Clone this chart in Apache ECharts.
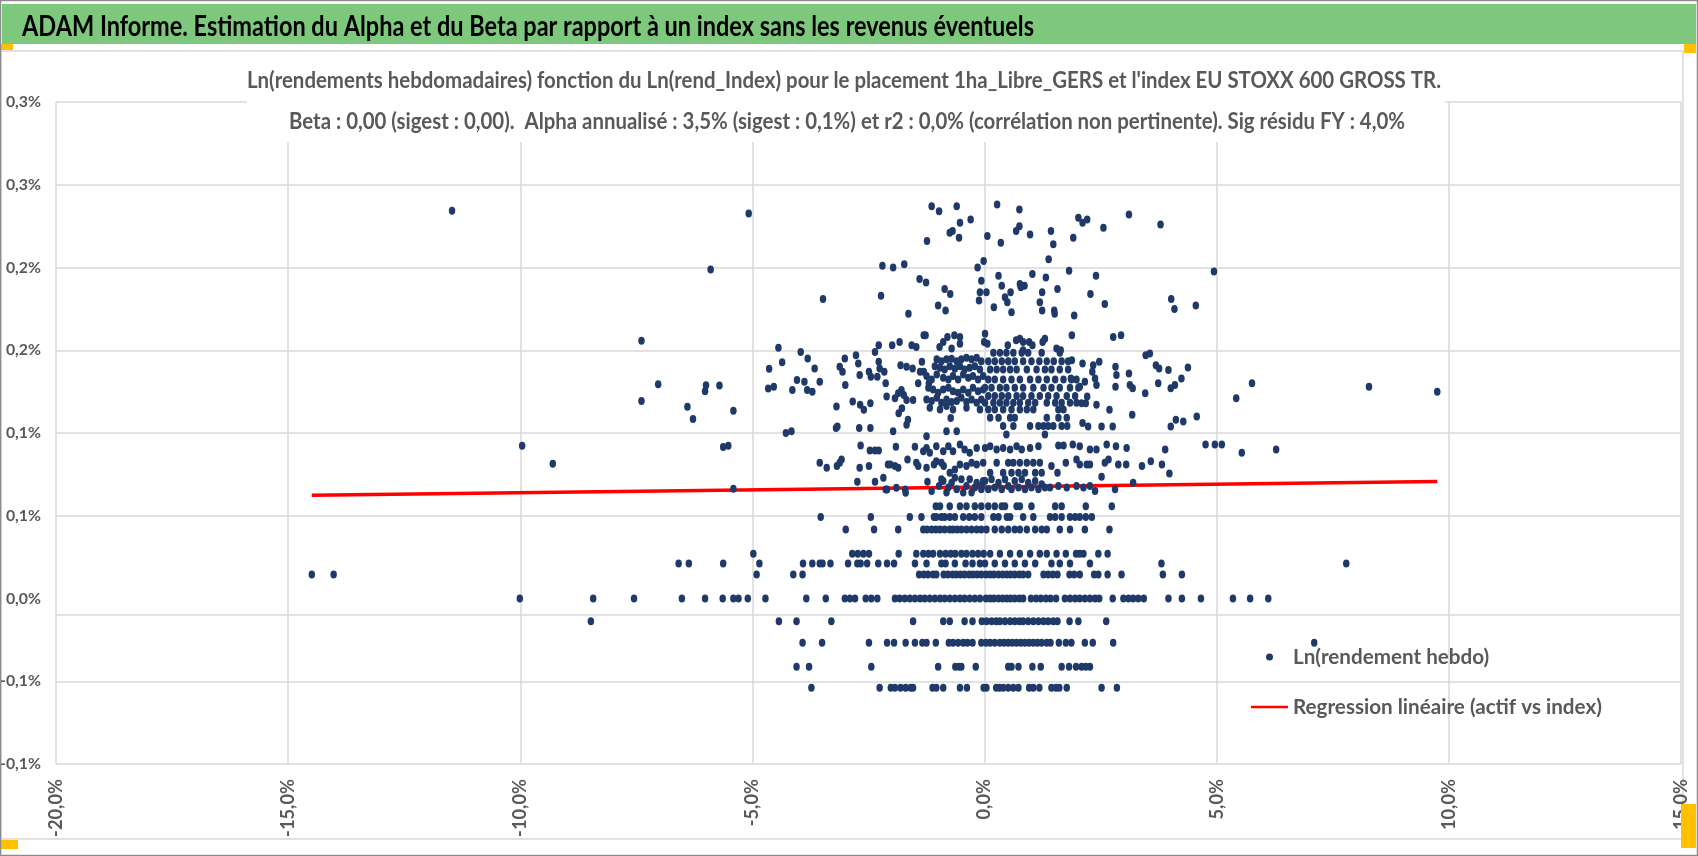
<!DOCTYPE html>
<html>
<head>
<meta charset="utf-8">
<script src="https://cdn.jsdelivr.net/npm/echarts@6/dist/echarts.min.js"></script>
<style>
html,body{margin:0;padding:0;background:#fff;}
#chart{width:1698px;height:856px;}
</style>
</head>
<body>
<div id="chart"></div>
<script>
const FONT = 'Lato, "DejaVu Sans Condensed", sans-serif';
const mainTitle = 'ADAM Informe. Estimation du Alpha et du Beta par rapport à un index sans les revenus éventuels';
const subLine1 = "Ln(rendements hebdomadaires) fonction du Ln(rend_Index) pour le placement 1ha_Libre_GERS et l'index EU STOXX 600 GROSS TR.";
const subLine2 = 'Beta : 0,00 (sigest : 0,00).  Alpha annualisé : 3,5% (sigest : 0,1%) et r2 : 0,0% (corrélation non pertinente). Sig résidu FY : 4,0%';
const seriesNames = ['Ln(rendement hebdo)', 'Regression linéaire (actif vs index)'];

// y-axis tick labels as printed (bottom to top), values in %
const yTickLabels = ['-0,1%', '-0,1%', '0,0%', '0,1%', '0,1%', '0,2%', '0,2%', '0,3%', '0,3%'];
const xTickLabels = ['-20,0%', '-15,0%', '-10,0%', '-5,0%', '0,0%', '5,0%', '10,0%', '15,0%'];

// horizontal axis line position (value in %)
const axisCrossY = -0.0115;

// regression line end points (x in %, y in %)
const regX = [-14.49, 9.75];
const regY = [0.0624, 0.0707];

// quantised return levels (y, %) and the index returns (x, %) observed on each
const bandLevels = [-0.0539, -0.0413, -0.0268, -0.0137, 0, 0.0145, 0.0212, 0.0270, 0.0417, 0.0492, 0.0558];
const bandX = [
  [-3.73, -2.26, -2.02, -1.93, -1.81, -1.70, -1.59, -1.54, -1.12, -1.04, -0.89, -0.53, -0.38, -0.02, 0.04, 0.25, 0.32, 0.40, 0.51, 0.62, 0.73, 0.96, 1.05, 1.18, 1.44, 1.54, 1.61, 1.77, 2.52, 2.85],
  [-4.05, -3.78, -2.44, -1.00, -0.63, -0.55, -0.50, -0.19, 0.51, 0.58, 0.73, 1.03, 1.21, 1.66, 1.82, 1.97, 2.09, 2.18, 2.27],
  [-3.92, -3.50, -2.49, -2.10, -1.95, -1.70, -1.50, -1.34, -1.25, -1.05, -0.77, -0.68, -0.57, -0.46, -0.37, -0.26, -0.07, 0.03, 0.12, 0.22, 0.33, 0.42, 0.51, 0.60, 0.69, 0.78, 0.87, 0.96, 1.05, 1.14, 1.23, 1.34, 1.42, 1.60, 1.75, 1.87, 2.16, 2.33, 2.77, 7.10],
  [-8.48, -4.43, -4.05, -3.30, -1.54, -0.89, -0.75, -0.43, -0.26, -0.06, 0.04, 0.15, 0.25, 0.33, 0.44, 0.55, 0.65, 0.75, 0.83, 0.94, 1.05, 1.16, 1.27, 1.37, 1.48, 1.57, 1.83, 2.02, 2.62],
  [-10.01, -8.43, -7.55, -6.52, -6.02, -5.64, -5.41, -5.30, -5.10, -4.72, -3.84, -3.42, -3.01, -2.90, -2.79, -2.56, -2.44, -2.31, -1.93, -1.83, -1.72, -1.61, -1.50, -1.39, -1.29, -1.18, -1.07, -0.96, -0.86, -0.75, -0.64, -0.53, -0.43, -0.32, -0.21, -0.10, 0.03, 0.12, 0.20, 0.30, 0.39, 0.48, 0.56, 0.65, 0.75, 0.83, 1.00, 1.11, 1.21, 1.32, 1.42, 1.54, 1.73, 1.84, 1.95, 2.05, 2.16, 2.27, 2.38, 2.47, 2.76, 2.99, 3.10, 3.20, 3.31, 3.43, 3.96, 4.25, 4.66, 5.35, 5.72, 6.11],
  [-14.49, -14.02, -4.91, -4.12, -3.92, -1.41, -1.31, -1.22, -1.11, -1.04, -0.88, -0.79, -0.69, -0.61, -0.52, -0.43, -0.33, -0.25, -0.16, -0.07, 0.03, 0.12, 0.20, 0.30, 0.39, 0.48, 0.56, 0.65, 0.75, 0.83, 0.94, 1.27, 1.37, 1.47, 1.57, 1.83, 1.93, 2.05, 2.36, 2.45, 2.65, 2.95, 3.84, 4.25],
  [-6.59, -6.37, -5.63, -4.85, -3.91, -3.71, -3.55, -3.49, -3.32, -2.94, -2.74, -2.67, -2.53, -2.29, -2.10, -1.95, -1.50, -1.25, -0.93, -0.84, -0.64, -0.41, -0.26, -0.10, 0.01, 0.22, 0.44, 0.65, 0.87, 1.09, 1.44, 1.62, 1.84, 2.27, 3.81, 7.79],
  [-4.98, -2.85, -2.73, -2.61, -2.49, -1.85, -1.47, -1.32, -1.21, -1.11, -0.96, -0.84, -0.73, -0.63, -0.50, -0.39, -0.26, -0.14, -0.02, 0.12, 0.33, 0.55, 0.76, 0.98, 1.19, 1.34, 1.55, 1.75, 1.97, 2.05, 2.13, 2.45, 2.65],
  [-2.99, -2.38, -1.86, -1.32, -1.24, -1.14, -1.05, -0.96, -0.86, -0.75, -0.68, -0.59, -0.50, -0.39, -0.28, -0.17, -0.07, 0.04, 0.22, 0.37, 0.51, 0.65, 0.76, 0.91, 1.09, 1.23, 1.34, 1.62, 1.84, 2.16, 2.69],
  [-3.53, -2.45, -1.61, -1.36, -1.09, -1.04, -0.93, -0.86, -0.75, -0.64, -0.46, -0.33, -0.21, -0.07, 0.19, 0.30, 0.48, 0.55, 0.83, 1.05, 1.41, 1.52, 1.66, 1.84, 1.95, 2.05, 2.18, 2.31],
  [-1.05, -0.96, -0.75, -0.53, -0.39, -0.21, -0.07, 0.08, 0.22, 0.37, 0.44, 0.69, 0.76, 1.01, 1.52, 1.66, 2.18, 2.74]
];

// scattered weekly points [index %, asset %] in the upper cloud
const cloudLow = [
  [-5.41,0.0663],[-2.74,0.0705],[-2.36,0.0705],[-2.18,0.0729],[-2.13,0.0659],[-2.10,0.0659],[-1.90,0.0669],[-1.71,0.0659],[-1.70,0.0639],[-1.23,0.0705],[-1.14,0.0649],
  [-0.98,0.068],[-0.93,0.072],[-0.89,0.071],[-0.82,0.064],[-0.78,0.067],[-0.71,0.070],[-0.64,0.073],[-0.60,0.066],[-0.50,0.072],[-0.46,0.064],[-0.39,0.068],[-0.32,0.072],[-0.28,0.064],[-0.21,0.067],[-0.17,0.070],[-0.07,0.066],[-0.03,0.071],
  [-0.06,0.068],[0.01,0.071],[0.08,0.066],[0.15,0.072],[0.22,0.067],[0.30,0.070],[0.37,0.066],[0.44,0.072],[0.51,0.068],[0.58,0.066],[0.65,0.071],[0.73,0.067],[0.80,0.072],[0.87,0.066],[0.94,0.070],[1.01,0.067],[1.09,0.071],[1.16,0.066],[1.23,0.069],[1.30,0.067],[1.41,0.067],[1.59,0.068],[1.77,0.067],[1.98,0.068],[2.13,0.067],[2.27,0.068],[2.38,0.065],[2.81,0.066],[2.52,0.0735],[3.20,0.070],
  [-0.75,0.076],[0.12,0.076],[0.40,0.076],[0.58,0.076],[0.73,0.076],[0.87,0.076],[1.09,0.076],[1.23,0.076],[1.57,0.076],[3.98,0.0755]
];
const cloudMid = [
  [-9.30,0.0814],[-3.55,0.082],[-3.40,0.079],[-3.18,0.080],[-3.12,0.082],[-3.08,0.084],[-2.69,0.079],[-2.49,0.080],[-2.08,0.081],[-2.03,0.081],[-1.93,0.080],[-1.86,0.079],[-1.66,0.084],[-1.47,0.082],[-1.43,0.080],[-1.25,0.079],[-1.09,0.081],[-1.04,0.083],[-0.93,0.082],[-0.88,0.080],[-0.64,0.078],[-0.53,0.081],[-0.39,0.080],[-0.28,0.082],[-0.17,0.081],
  [-0.03,0.082],[0.26,0.082],[0.51,0.082],[0.62,0.082],[0.76,0.082],[0.91,0.082],[1.05,0.082],[1.19,0.082],[1.44,0.080],[1.75,0.082],[1.98,0.084],[2.05,0.081],[2.20,0.081],[2.27,0.081],[2.59,0.082],[2.67,0.084],[2.88,0.081],[3.05,0.081],[3.39,0.080],[3.58,0.083],[3.82,0.081],
  [-9.96,0.0923],[-5.63,0.0915],[-5.52,0.0923],[-2.67,0.0925],[-2.47,0.0895],[-2.36,0.0895],[-2.28,0.0895],[-1.91,0.0917],[-1.50,0.0917],[-1.32,0.089],[-1.25,0.091],[-1.18,0.088],[-1.04,0.092],[-0.89,0.089],[-0.78,0.092],[-0.68,0.089],[-0.53,0.093],[-0.43,0.090],[-0.32,0.088],[-0.17,0.091],
  [0.01,0.091],[0.12,0.092],[0.26,0.090],[0.40,0.091],[0.55,0.090],[0.69,0.092],[0.80,0.090],[0.98,0.091],[1.16,0.092],[1.59,0.0925],[1.70,0.0925],[1.90,0.093],[2.05,0.092],[2.27,0.090],[2.41,0.090],[2.63,0.093],[2.83,0.092],[3.06,0.091],[3.89,0.090],[4.76,0.093],[4.96,0.093],[5.11,0.093],[5.54,0.088],[6.28,0.090]
];
const cloudLeft = [
  [-11.47,0.2343],[-5.08,0.2327],[-5.90,0.1988],[-7.39,0.1557],[-4.44,0.1515],[-4.64,0.1388],[-4.36,0.1428],[-7.03,0.1295],[-6.00,0.1289],[-6.02,0.1253],[-5.71,0.1287],[-4.66,0.1269],[-4.54,0.1279],[-7.39,0.1193],[-6.40,0.1159],[-6.28,0.1084],[-5.41,0.1134],
  [-1.14,0.237],[-0.98,0.234],[-0.60,0.237],[-0.53,0.227],[-0.30,0.229],[-0.75,0.221],[-0.69,0.222],[-0.55,0.218],[-1.24,0.216],[-2.20,0.201],[-1.97,0.200],[-1.73,0.202],[-0.15,0.200],[-0.02,0.204],
  [-1.40,0.193],[-1.26,0.191],[-0.86,0.187],[-0.74,0.184],[-2.23,0.183],[-3.48,0.181],[-0.07,0.192],[-0.10,0.185],[-0.12,0.180],[-1.00,0.177],[-0.84,0.174],[-1.64,0.172],
  [-1.31,0.159],[-1.27,0.159],[-0.80,0.158],[-0.65,0.159],[-0.53,0.158],[-2.28,0.153],[-1.99,0.153],[-1.83,0.155],[-1.57,0.153],[-1.47,0.152],[-0.97,0.152],[-0.89,0.155],[-0.71,0.151],[-0.53,0.154],
  [-3.96,0.149],[-3.81,0.145],[-3.66,0.139],[-4.04,0.132],[-3.88,0.131],[-3.55,0.131],[-4.14,0.126],[-3.82,0.126],[-3.71,0.125],
  [-2.77,0.147],[-2.72,0.142],[-3.01,0.145],[-3.12,0.140],[-3.06,0.137],[-2.69,0.135],[-3.00,0.129],[-2.49,0.137],[-2.45,0.134],[-2.31,0.134],[-2.36,0.149],[-2.28,0.143],[-2.26,0.139],[-2.16,0.137],[-2.13,0.130],
  [-1.81,0.141],[-1.68,0.140],[-1.55,0.139],[-1.35,0.143],[-1.39,0.137],[-1.31,0.137],[-1.43,0.130],[-1.20,0.130],
  [-3.19,0.116],[-2.84,0.119],[-2.68,0.117],[-2.60,0.114],[-2.46,0.118],[-2.11,0.122],[-1.93,0.121],[-1.86,0.124],[-1.79,0.126],[-1.74,0.123],[-1.68,0.120],[-1.85,0.112],[-1.78,0.115],[-1.54,0.120],[-1.65,0.108],[-1.68,0.105],
  [-3.20,0.103],[-3.17,0.104],[-2.70,0.103],[-2.46,0.103],[-1.97,0.101],[-4.28,0.100],[-4.16,0.101],[-0.73,0.109],[-0.82,0.101],[-0.60,0.101],[-1.25,0.098],
  [-1.03,0.1445],[-0.93,0.1434],[-0.82,0.1445],[-0.71,0.1449],[-0.60,0.1434],[-0.50,0.1445],[-0.39,0.1455],[-0.28,0.1445],[-0.17,0.1455],[-0.07,0.1434],
  [-1.07,0.1404],[-0.96,0.1394],[-0.86,0.1384],[-0.75,0.1404],[-0.64,0.1388],[-0.53,0.1404],[-0.43,0.1384],[-0.32,0.1394],[-0.21,0.1404],[-0.10,0.1384],
  [-1.25,0.1344],[-1.14,0.1324],[-1.03,0.1354],[-0.89,0.1334],[-0.78,0.1324],[-0.68,0.1344],[-0.57,0.1324],[-0.46,0.1354],[-0.35,0.1334],[-0.25,0.1344],[-0.14,0.1324],[-0.03,0.1344],
  [-1.21,0.1273],[-1.11,0.1263],[-1.00,0.1243],[-0.89,0.1263],[-0.78,0.1273],[-0.68,0.1253],[-0.57,0.1243],[-0.46,0.1263],[-0.35,0.1243],[-0.25,0.1273],[-0.14,0.1253],[-0.03,0.1263],
  [-1.25,0.1203],[-1.14,0.1193],[-1.03,0.1213],[-0.93,0.1183],[-0.82,0.1203],[-0.71,0.1187],[-0.60,0.1193],[-0.50,0.1213],[-0.39,0.1187],[-0.28,0.1203],[-0.17,0.1183],[-0.07,0.1203],
  [-1.18,0.1152],[-0.96,0.1142],[-0.82,0.1163],[-0.68,0.1142],[-0.39,0.1152],[-0.10,0.1142]
];
const cloudRight = [
  [0.27,0.238],[0.75,0.235],[0.06,0.219],[0.35,0.215],[0.68,0.222],[0.75,0.225],[0.98,0.220],[1.43,0.222],[1.48,0.214],[1.91,0.218],[2.02,0.230],[2.11,0.227],[2.21,0.229],[2.56,0.224],[3.11,0.232],[3.79,0.226],
  [1.38,0.205],[1.82,0.198],[1.03,0.196],[1.32,0.194],[2.40,0.195],[0.30,0.195],[0.37,0.189],[0.04,0.185],[0.76,0.190],[0.86,0.189],[0.78,0.188],[0.56,0.185],[0.44,0.182],[0.49,0.179],[0.58,0.173],[0.20,0.176],
  [1.24,0.185],[1.57,0.187],[1.19,0.179],[1.24,0.174],[1.50,0.174],[1.51,0.172],[1.93,0.171],[2.28,0.184],[2.59,0.178],[4.02,0.181],[4.09,0.175],
  [1.88,0.159],[2.77,0.158],[2.94,0.159],[0.01,0.160],[-0.01,0.155],[0.06,0.154],[0.50,0.153],[0.68,0.156],[0.76,0.157],[0.83,0.155],[0.83,0.150],[0.96,0.155],[1.03,0.153],[1.25,0.155],[1.30,0.157],[1.55,0.151],[1.64,0.150],
  [3.47,0.147],[3.56,0.148],[3.69,0.141],[3.76,0.139],[3.96,0.138],[4.24,0.133],[4.01,0.127],[4.10,0.129],[3.74,0.130],[3.46,0.124],[3.11,0.136],[3.13,0.129],[3.19,0.127],[2.82,0.140],[2.84,0.135],[2.82,0.128],
  [2.47,0.143],[2.34,0.141],[2.32,0.137],[2.38,0.133],[2.41,0.129],[2.11,0.142],[1.88,0.144],[1.86,0.133],[2.16,0.131],[2.05,0.128],[2.21,0.122],[2.09,0.118],[2.18,0.118],[2.41,0.117],[2.69,0.114],[3.18,0.111],
  [2.11,0.106],[2.23,0.104],[2.52,0.104],[2.76,0.104],[4.01,0.104],[4.12,0.108],[4.28,0.107],
  [0.19,0.1485],[0.33,0.1485],[0.47,0.1485],[0.62,0.1485],[0.80,0.1485],[0.94,0.1485],[1.23,0.1485],[1.62,0.1485],
  [0.08,0.1434],[0.22,0.1434],[0.37,0.1434],[0.51,0.1434],[0.65,0.1434],[0.83,0.1434],[1.01,0.1434],[1.18,0.1434],[1.34,0.1434],[1.49,0.1434],[1.66,0.1434],[1.80,0.1434],
  [0.12,0.1384],[0.26,0.1384],[0.40,0.1384],[0.55,0.1384],[0.69,0.1384],[0.91,0.1384],[1.12,0.1384],[1.30,0.1384],[1.44,0.1384],[1.62,0.1384],[1.80,0.1384],
  [0.08,0.1324],[0.22,0.1324],[0.40,0.1324],[0.58,0.1324],[0.76,0.1324],[0.98,0.1324],[1.16,0.1324],[1.34,0.1324],[1.52,0.1324],[1.70,0.1324],[1.87,0.1324],[1.98,0.1324],
  [0.01,0.1273],[0.15,0.1273],[0.33,0.1273],[0.47,0.1273],[0.65,0.1273],[0.83,0.1273],[1.05,0.1273],[1.27,0.1273],[1.44,0.1273],[1.62,0.1273],[1.84,0.1273],[2.02,0.1273],
  [0.08,0.1223],[0.22,0.1223],[0.37,0.1223],[0.51,0.1223],[0.69,0.1223],[0.83,0.1223],[1.01,0.1223],[1.19,0.1223],[1.37,0.1223],[1.55,0.1223],[1.77,0.1223],[1.95,0.1223],
  [0.01,0.1183],[0.19,0.1183],[0.33,0.1183],[0.47,0.1183],[0.62,0.1183],[0.76,0.1183],[0.94,0.1183],[1.09,0.1183],[1.34,0.1183],[1.52,0.1183],[1.66,0.1183],[1.84,0.1183],[1.98,0.1183],
  [0.08,0.1142],[0.22,0.1142],[0.40,0.1142],[0.58,0.1142],[0.76,0.1142],[0.91,0.1142],[1.05,0.1142],[1.59,0.1142],[1.70,0.1142],
  [0.12,0.1092],[0.30,0.1092],[0.55,0.1092],[0.65,0.1092],[1.34,0.1092],[1.59,0.1092],[1.77,0.1092],
  [0.40,0.1042],[0.62,0.1042],[0.98,0.1042],[1.16,0.1042],[1.27,0.1042],[1.37,0.1042],[1.48,0.1042],[1.66,0.1042],[1.78,0.1042],[0.47,0.0991],[1.30,0.0991],
  [4.94,0.1976],[4.55,0.1770],[4.38,0.1396],[4.57,0.110],[5.42,0.121],[5.76,0.130],[8.28,0.128],[9.75,0.125]
];

const scatterData = [];
bandLevels.forEach((lv, i) => bandX[i].forEach(x => scatterData.push([x, lv])));
[cloudLow, cloudMid, cloudLeft, cloudRight].forEach(arr => arr.forEach(p => scatterData.push(p)));

const regData = [[regX[0], regY[0]], [regX[1], regY[1]]];

// --- text measuring helpers (layout only) ---
const mctx = document.createElement('canvas').getContext('2d');
function textW(str, size, weight) {
  mctx.font = (weight || 'normal') + ' ' + size + 'px ' + FONT;
  return mctx.measureText(str).width;
}
function fitSize(str, targetW, weight) { return 20 * targetW / textW(str, 20, weight); }

const titleSize = 29, subSize = 23;
const titleScale = 1012 / textW(mainTitle, titleSize, 'bold');
const sub1Scale = 1194 / textW(subLine1, subSize, 'bold');
const sub2Scale = 1116 / textW(subLine2, subSize, 'bold');
const yLabSize = Math.min(20, fitSize('-0,1%', 41, 'bold'));
const xLabSize = Math.min(20, fitSize('-20,0%', 58, 'bold'));
const legSize = Math.min(22, fitSize(seriesNames[1], 309, 'bold'));

const GRID = '#d9d9d9';
const TXT = '#595959';
const ySplitColors = [GRID, GRID, 'rgba(0,0,0,0)', GRID, GRID, GRID, GRID, GRID, GRID];
const LINE_ICON = 'path://M0,0h0.01v0.01h-0.01z M0,6.99h0.01v0.01h-0.01z M0,2.2h37v2.6h-37z';

const chart = echarts.init(document.getElementById('chart'), null, {renderer: 'canvas'});
chart.setOption({
  animation: false,
  backgroundColor: '#ffffff',
  textStyle: {fontFamily: FONT},
  graphic: [
    {type: 'rect', z: -10, shape: {x: 1, y: 51, width: 1682, height: 788}, style: {fill: 'none', stroke: '#d9d9d9', lineWidth: 1.5}},
    {type: 'rect', z: 0, shape: {x: 2, y: 4, width: 1694, height: 40}, style: {fill: '#7ec87e'}},
    {type: 'text', z: 1, x: 22, y: 27, scaleX: titleScale,
     style: {text: mainTitle, fill: '#000000', fontSize: titleSize, fontWeight: 'bold', fontFamily: FONT, align: 'left', verticalAlign: 'middle'}},
    {type: 'rect', z: 5, shape: {x: 247, y: 60, width: 1198, height: 82}, style: {fill: '#ffffff'}},
    {type: 'text', z: 6, x: 844, y: 81, scaleX: sub1Scale,
     style: {text: subLine1, fill: TXT, fontSize: subSize, fontWeight: 'bold', fontFamily: FONT, align: 'center', verticalAlign: 'middle'}},
    {type: 'text', z: 6, x: 847, y: 122, scaleX: sub2Scale,
     style: {text: subLine2, fill: TXT, fontSize: subSize, fontWeight: 'bold', fontFamily: FONT, align: 'center', verticalAlign: 'middle'}},
    {type: 'rect', z: 10, shape: {x: 0, y: 44, width: 13, height: 6}, style: {fill: '#ffc000'}},
    {type: 'rect', z: 10, shape: {x: 1684, y: 44, width: 12, height: 9}, style: {fill: '#ffc000'}},
    {type: 'rect', z: 10, shape: {x: 0, y: 840, width: 18, height: 9}, style: {fill: '#ffc000'}},
    {type: 'rect', z: 10, shape: {x: 1681, y: 804, width: 15, height: 44}, style: {fill: '#ffc000'}},
    {type: 'rect', z: 20, shape: {x: 0.5, y: 0.5, width: 1697, height: 855}, style: {fill: 'none', stroke: '#8c8c8c', lineWidth: 1.5}}
  ],
  legend: {
    orient: 'vertical', left: 1251, top: 645, padding: 0, itemWidth: 37, itemHeight: 7, itemGap: 26,
    data: [{name: seriesNames[0], icon: 'circle'}, {name: seriesNames[1], icon: LINE_ICON}],
    textStyle: {fontFamily: FONT, fontSize: legSize, fontWeight: 'bold', color: TXT, lineHeight: 24},
    selectedMode: false
  },
  grid: {left: 56, right: 17, top: 102, bottom: 92, containLabel: false, outerBoundsMode: 'none'},
  xAxis: {
    type: 'value', min: -20, max: 15, interval: 5,
    axisLine: {show: false}, axisTick: {show: false},
    splitLine: {show: true, lineStyle: {color: GRID, width: 1.5}},
    axisLabel: {rotate: 90, margin: 15, fontFamily: FONT, fontSize: xLabSize, fontWeight: 'bold', color: TXT,
      formatter: v => xTickLabels[Math.round((v + 20) / 5)]}
  },
  yAxis: {
    type: 'value', min: -0.1, max: 0.3, interval: 0.05,
    axisLine: {show: false}, axisTick: {show: false},
    splitLine: {show: true, lineStyle: {color: ySplitColors, width: 1.5}},
    axisLabel: {margin: 15, fontFamily: FONT, fontSize: yLabSize, fontWeight: 'bold', color: TXT,
      formatter: v => yTickLabels[Math.round((v + 0.1) / 0.05)]}
  },
  series: [
    {
      name: seriesNames[0], type: 'scatter', z: 3,
      symbol: 'circle', symbolSize: [6.5, 8],
      itemStyle: {color: '#1f3a68', opacity: 1},
      data: scatterData,
      markLine: {silent: true, symbol: 'none', label: {show: false}, animation: false,
        lineStyle: {color: GRID, width: 1.5, type: 'solid'},
        data: [{yAxis: axisCrossY}]}
    },
    {
      name: seriesNames[1], type: 'line', z: 2, symbol: 'none', showSymbol: false,
      lineStyle: {color: '#ff0000', width: 3.5}, itemStyle: {color: '#ff0000'},
      data: regData
    }
  ]
});
</script>
</body>
</html>
